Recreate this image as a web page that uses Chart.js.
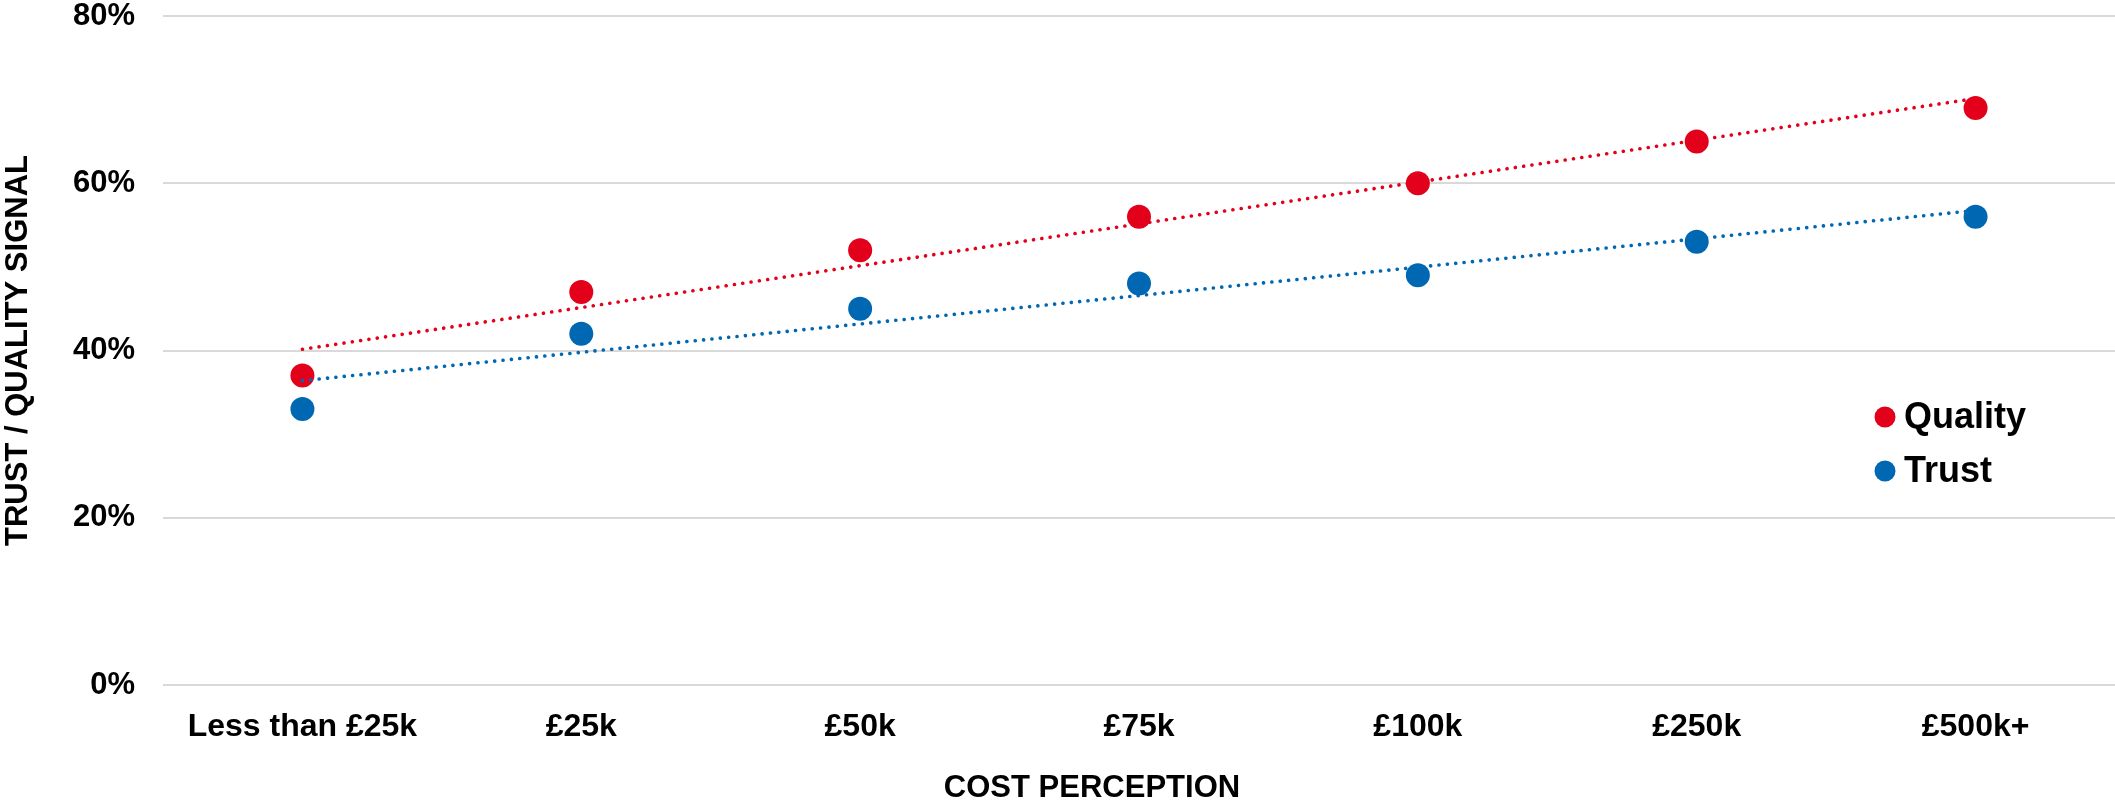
<!DOCTYPE html>
<html>
<head>
<meta charset="utf-8">
<script src="https://cdn.jsdelivr.net/npm/chart.js@4.4.1/dist/chart.umd.min.js"></script>
<style>
  html, body { margin: 0; padding: 0; background: #ffffff; }
  #wrap { width: 2115px; height: 802px; position: relative; }
</style>
</head>
<body>
<div id="wrap"><canvas id="chart" width="2115" height="802"></canvas></div>
<script>
// Survey results: share of respondents seeing price as a quality / trust signal
const categories = ['Less than £25k', '£25k', '£50k', '£75k', '£100k', '£250k', '£500k+'];
const qualityValues = [37, 47, 52, 56, 60, 65, 69];
const trustValues = [33, 42, 45, 48, 49, 53, 56];
const yTickValues = [0, 20, 40, 60, 80];

const seriesNames = ['Quality', 'Trust'];
const seriesColors = ['#E2001A', '#0068B3'];

const FONT = '"Liberation Sans", Arial, Helvetica, sans-serif';

// Least-squares linear trend evaluated at each category index
function linearTrend(values) {
  const n = values.length;
  const mx = (n - 1) / 2;
  const my = values.reduce((a, b) => a + b, 0) / n;
  let sxy = 0, sxx = 0;
  values.forEach((v, i) => { sxy += (i - mx) * (v - my); sxx += (i - mx) * (i - mx); });
  const slope = sxy / sxx;
  const intercept = my - slope * mx;
  return values.map((_, i) => intercept + slope * i);
}

function pointSeries(label, values, color) {
  return {
    label: label,
    data: values,
    showLine: false,
    pointRadius: 12,
    pointHoverRadius: 12,
    pointBackgroundColor: color,
    pointBorderWidth: 0,
    borderColor: color,
    backgroundColor: color,
    order: 2
  };
}

function trendSeries(label, values, color) {
  return {
    label: label + ' trend',
    isTrend: true,
    data: linearTrend(values),
    borderColor: color,
    borderWidth: 3.6,
    borderDash: [0.1, 8.3],
    borderCapStyle: 'round',
    pointRadius: 0,
    pointHoverRadius: 0,
    fill: false,
    tension: 0,
    order: 1
  };
}

// Legend drawn inside the plot area, on the right
const insideLegend = {
  id: 'insideLegend',
  afterDatasetsDraw(chart) {
    const { ctx, chartArea } = chart;
    const items = chart.data.datasets.filter(d => !d.isTrend);
    const x = chartArea.right - 230;
    let y = chartArea.top + 401;
    ctx.save();
    ctx.font = 'bold 36px ' + FONT;
    ctx.textBaseline = 'middle';
    ctx.textAlign = 'left';
    items.forEach(d => {
      ctx.beginPath();
      ctx.fillStyle = d.pointBackgroundColor;
      ctx.arc(x, y, 10.5, 0, Math.PI * 2);
      ctx.fill();
      ctx.fillStyle = '#000000';
      ctx.fillText(d.label, x + 19, y + 1);
      y += 54;
    });
    ctx.restore();
  }
};

// Horizontal axis title, set slightly left of the plot centre
const xAxisTitle = {
  id: 'xAxisTitle',
  afterDraw(chart) {
    const { ctx, chartArea } = chart;
    ctx.save();
    ctx.font = 'bold 31px ' + FONT;
    ctx.fillStyle = '#000000';
    ctx.textAlign = 'center';
    ctx.textBaseline = 'alphabetic';
    ctx.fillText('COST PERCEPTION', (chartArea.left + chartArea.right) / 2 - 47, 797);
    ctx.restore();
  }
};

new Chart(document.getElementById('chart'), {
  type: 'line',
  data: {
    labels: categories,
    datasets: [
      pointSeries(seriesNames[0], qualityValues, seriesColors[0]),
      pointSeries(seriesNames[1], trustValues, seriesColors[1]),
      trendSeries(seriesNames[0], qualityValues, seriesColors[0]),
      trendSeries(seriesNames[1], trustValues, seriesColors[1])
    ]
  },
  options: {
    responsive: false,
    animation: false,
    devicePixelRatio: 1,
    layout: { autoPadding: false, padding: { top: 16, right: 0, bottom: 0, left: 0 } },
    plugins: {
      legend: { display: false },
      tooltip: { enabled: false },
      title: { display: false }
    },
    scales: {
      x: {
        type: 'category',
        offset: true,
        grid: { display: false, drawTicks: false },
        border: { display: false },
        ticks: {
          color: '#000000',
          font: { family: FONT, size: 32, weight: 'bold' },
          padding: 23,
          maxRotation: 0,
          autoSkip: false
        },
        afterFit(scale) {
          scale.height = 117;
          scale.paddingLeft = 0;
          scale.paddingRight = 0;
        }
      },
      y: {
        min: 0,
        max: 80,
        afterBuildTicks(scale) { scale.ticks = yTickValues.map(v => ({ value: v })); },
        grid: { color: '#D9D9D9', lineWidth: 2, drawTicks: false },
        border: { display: false },
        ticks: {
          color: '#000000',
          font: { family: FONT, size: 31, weight: 'bold' },
          padding: 28,
          callback: v => v + '%'
        },
        title: {
          display: true,
          text: 'TRUST / QUALITY SIGNAL',
          color: '#000000',
          font: { family: FONT, size: 31, weight: 'bold' },
          padding: { top: 0, bottom: 0 }
        },
        afterFit(scale) {
          scale.width = 163;
          scale.paddingTop = 0;
          scale.paddingBottom = 0;
        }
      }
    }
  },
  plugins: [insideLegend, xAxisTitle]
});
</script>
</body>
</html>
